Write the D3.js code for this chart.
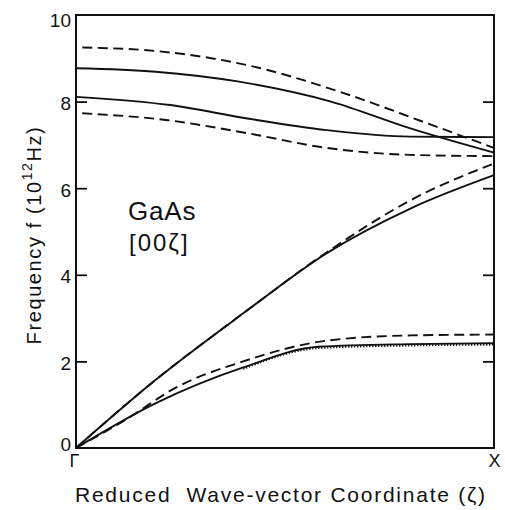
<!DOCTYPE html>
<html>
<head>
<meta charset="utf-8">
<script src="https://cdn.jsdelivr.net/npm/d3@7"></script>
<style>
  html, body { margin: 0; padding: 0; background: #fff; }
  svg text { font-family: "Liberation Sans", Arial, sans-serif; fill: #111; }
</style>
</head>
<body>
<svg id="chart" width="505" height="510"></svg>
<script>
// GaAs phonon dispersion along [00ζ]; ξ = reduced wave-vector, f in 10^12 Hz
const yTicks = [0, 2, 4, 6, 8, 10];
const rightTicks = [2, 4, 6, 8];
const xTickLabels = ["Γ", "X"];

// solid curves
const loSolid  = [[0, 8.77], [0.19, 8.69], [0.39, 8.46], [0.61, 8.0], [0.8, 7.38], [1.0, 6.82]];
const toSolid  = [[0, 8.11], [0.225, 7.92], [0.41, 7.61], [0.6, 7.34], [0.8, 7.19], [1.0, 7.18]];
const laSolid  = [[0, 0], [0.19, 1.57], [0.4, 3.11], [0.6, 4.5], [0.8, 5.53], [1.0, 6.3]];
const taSolid  = [[0, 0], [0.19, 1.03], [0.4, 1.86], [0.58, 2.34], [0.8, 2.40], [1.0, 2.42]];
// dashed curves
const loDashed = [[0.015, 9.25], [0.2, 9.16], [0.42, 8.82], [0.63, 8.23], [0.84, 7.5], [1.0, 6.93]];
const toDashed = [[0.015, 7.73], [0.22, 7.57], [0.41, 7.27], [0.6, 6.93], [0.8, 6.77], [1.0, 6.74]];
const laDashed = [[0, 0], [0.19, 1.57], [0.4, 3.11], [0.6, 4.52], [0.81, 5.77], [1.0, 6.57]];
const taDashed = [[0, 0], [0.12, 0.66], [0.24, 1.4], [0.4, 2.0], [0.6, 2.48], [0.8, 2.6], [1.0, 2.62]];
// dotted curve hugging the transverse acoustic branch
const taDotted = [[0.4, 1.83], [0.58, 2.31], [0.8, 2.37], [1.0, 2.39]];

const margin = { left: 76, right: 11, top: 15, bottom: 62 };
const W = 505, H = 510;
const svg = d3.select("#chart");

const x = d3.scaleLinear().domain([0, 1]).range([margin.left, W - margin.right]);
const y = d3.scaleLinear().domain([0, 10]).range([H - margin.bottom, margin.top]);

const line = d3.line().x(d => x(d[0])).y(d => y(d[1])).curve(d3.curveMonotoneX);

const curves = [
  { data: loSolid,  dash: null },
  { data: toSolid,  dash: null },
  { data: laSolid,  dash: null },
  { data: taSolid,  dash: null },
  { data: loDashed, dash: "10,5.5" },
  { data: toDashed, dash: "10,5.5" },
  { data: laDashed, dash: "10,5.5" },
  { data: taDashed, dash: "10,5.5" }
];

svg.append("g").selectAll("path").data(curves).join("path")
  .attr("d", d => line(d.data))
  .attr("fill", "none")
  .attr("stroke", "#111")
  .attr("stroke-width", 1.9)
  .attr("stroke-dasharray", d => d.dash);

svg.append("path")
  .attr("d", line(taDotted))
  .attr("fill", "none")
  .attr("stroke", "#111")
  .attr("stroke-width", 2.2)
  .attr("stroke-dasharray", "1.3,1.7");

// left axis with inward ticks
const yAxis = d3.axisLeft(y).tickValues(yTicks).tickSizeInner(-11).tickSizeOuter(0).tickPadding(5)
  .tickFormat(d3.format("d"));
const gy = svg.append("g").attr("transform", `translate(${margin.left},0)`).call(yAxis);
gy.select(".domain").remove();
gy.selectAll(".tick line").attr("stroke", "#111").attr("stroke-width", 1.8)
  .filter(d => d === 0 || d === 10).remove();
gy.selectAll(".tick text").attr("font-size", 19).attr("fill", "#111")
  .attr("font-family", "Liberation Sans, Arial, sans-serif")
  .attr("dy", d => d === 10 ? "0.62em" : (d === 0 ? "0.12em" : "0.42em"));

// right axis: inward ticks only
const yAxisR = d3.axisRight(y).tickValues(rightTicks).tickSizeInner(-11).tickSizeOuter(0).tickFormat("");
const gr = svg.append("g").attr("transform", `translate(${W - margin.right},0)`).call(yAxisR);
gr.select(".domain").remove();
gr.selectAll(".tick line").attr("stroke", "#111").attr("stroke-width", 1.8);

// bottom axis: symmetry points
const xAxis = d3.axisBottom(x).tickValues([0, 1]).tickSize(0).tickPadding(6)
  .tickFormat((d, i) => xTickLabels[i]);
const gx = svg.append("g").attr("transform", `translate(0,${H - margin.bottom})`).call(xAxis);
gx.select(".domain").remove();
gx.selectAll(".tick text").attr("font-size", 18).attr("fill", "#111")
  .attr("font-family", "Liberation Sans, Arial, sans-serif");
gx.selectAll(".tick").filter(d => d === 0).select("text").attr("font-family", "Liberation Serif, serif").attr("dx", -2);

// frame
svg.append("rect")
  .attr("x", margin.left).attr("y", margin.top)
  .attr("width", W - margin.left - margin.right)
  .attr("height", H - margin.top - margin.bottom)
  .attr("fill", "none").attr("stroke", "#111").attr("stroke-width", 2);

// axis titles
svg.append("text")
  .attr("x", 75)
  .attr("y", 502)
  .attr("font-size", 21)
  .attr("textLength", 410)
  .attr("lengthAdjust", "spacing")
  .style("white-space", "pre")
  .text("Reduced  Wave-vector Coordinate (ζ)");

const yt = svg.append("text")
  .attr("transform", "translate(41,235) rotate(-90)")
  .attr("text-anchor", "middle")
  .attr("font-size", 20)
  .attr("letter-spacing", 1.6);
yt.append("tspan").text("Frequency f (10");
yt.append("tspan").attr("font-size", 14).attr("dy", -9).text("12");
yt.append("tspan").attr("dy", 9).text("Hz)");

// material annotation
svg.append("text").attr("x", 128).attr("y", 220).attr("font-size", 26).attr("letter-spacing", 0.8).text("GaAs");
svg.append("text").attr("x", 129).attr("y", 251).attr("font-size", 24).attr("letter-spacing", 2).text("[00ζ]");
</script>
</body>
</html>
